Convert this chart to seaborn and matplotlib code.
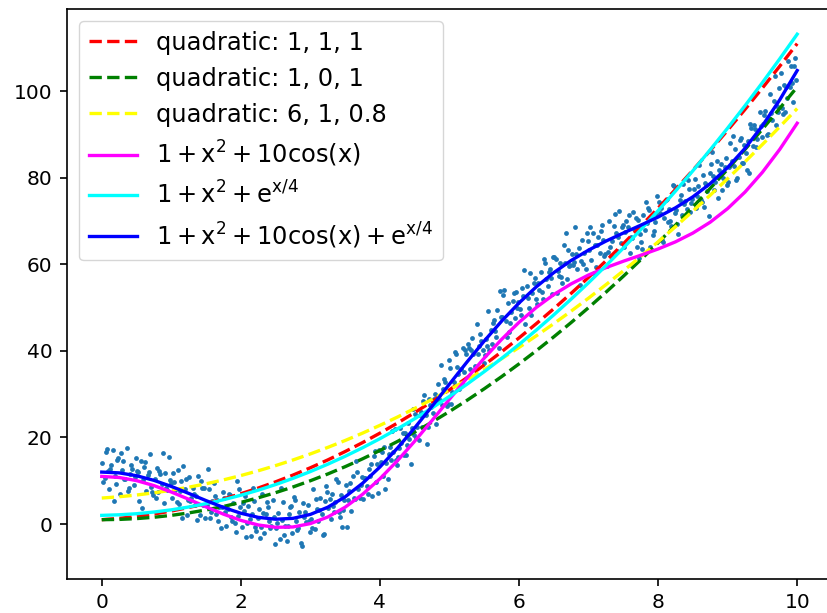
import matplotlib
matplotlib.use("Agg")
import matplotlib.pyplot as plt
import seaborn as sns

# curve samples, every 0.25 along x
x_grid = [0, 0.25, 0.5, 0.75, 1, 1.25, 1.5, 1.75, 2, 2.25, 2.5, 2.75, 3, 3.25,
          3.5, 3.75, 4, 4.25, 4.5, 4.75, 5, 5.25, 5.5, 5.75, 6, 6.25, 6.5,
          6.75, 7, 7.25, 7.5, 7.75, 8, 8.25, 8.5, 8.75, 9, 9.25, 9.5, 9.75, 10]

quad_111 = [1, 1.31, 1.75, 2.31, 3, 3.81, 4.75, 5.81, 7, 8.31, 9.75, 11.31, 13,
            14.81, 16.75, 18.81, 21, 23.31, 25.75, 28.31, 31, 33.81, 36.75,
            39.81, 43, 46.31, 49.75, 53.31, 57, 60.81, 64.75, 68.81, 73, 77.31,
            81.75, 86.31, 91, 95.81, 100.75, 105.81, 111]
quad_101 = [1, 1.06, 1.25, 1.56, 2, 2.56, 3.25, 4.06, 5, 6.06, 7.25, 8.56, 10,
            11.56, 13.25, 15.06, 17, 19.06, 21.25, 23.56, 26, 28.56, 31.25,
            34.06, 37, 40.06, 43.25, 46.56, 50, 53.56, 57.25, 61.06, 65, 69.06,
            73.25, 77.56, 82, 86.56, 91.25, 96.06, 101]
quad_6108 = [6, 6.3, 6.7, 7.2, 7.8, 8.5, 9.3, 10.2, 11.2, 12.3, 13.5, 14.8, 16.2,
             17.7, 19.3, 21, 22.8, 24.7, 26.7, 28.8, 31, 33.3, 35.7, 38.2, 40.8,
             43.5, 46.3, 49.2, 52.2, 55.3, 58.5, 61.8, 65.2, 68.7, 72.3, 76,
             79.8, 83.7, 87.7, 91.8, 96]
curve_cos = [11, 10.75, 10.03, 8.88, 7.40, 5.72, 3.96, 2.28, 0.84, -0.22, -0.76,
             -0.68, 0.10, 1.62, 3.89, 6.86, 10.46, 14.60, 19.14, 23.94, 28.84,
             33.68, 38.34, 42.67, 46.60, 50.06, 53.02, 55.49, 57.54, 59.24,
             60.72, 62.10, 63.55, 65.20, 67.23, 69.75, 72.89, 76.71, 81.28,
             86.59, 92.61]
curve_exp = [2, 2.13, 2.38, 2.77, 3.28, 3.93, 4.71, 5.61, 6.65, 7.82, 9.12,
             10.55, 12.12, 13.82, 15.65, 17.62, 19.72, 21.96, 24.33, 26.84,
             29.49, 32.28, 35.21, 38.27, 41.48, 44.83, 48.33, 51.97, 55.75,
             59.69, 63.77, 68.00, 72.39, 76.93, 81.62, 86.48, 91.49, 96.66,
             102.00, 107.51, 113.18]
curve_full = [12, 11.82, 11.16, 10.09, 8.69, 7.08, 5.41, 3.83, 2.49, 1.54, 1.11,
              1.31, 2.22, 3.88, 6.28, 9.41, 13.18, 17.50, 22.22, 27.22, 32.33,
              37.40, 42.29, 46.88, 51.08, 54.83, 58.09, 60.90, 63.29, 65.37,
              67.24, 69.04, 70.93, 73.07, 75.60, 78.67, 82.38, 86.81, 92.03,
              98.03, 104.79]

# noisy samples (estimated from the cloud of dots)
scatter_x = [
    0.01, 0.04, 0.06, 0.09, 0.11, 0.14, 0.16, 0.19, 0.21, 0.24, 0.26, 0.29, 0.31, 0.34, 0.36, 0.39, 0.41, 0.44, 0.46, 0.49,
    0.51, 0.54, 0.56, 0.59, 0.61, 0.64, 0.66, 0.69, 0.71, 0.74, 0.76, 0.79, 0.81, 0.84, 0.86, 0.89, 0.91, 0.94, 0.96, 0.99,
    1.01, 1.04, 1.06, 1.09, 1.11, 1.14, 1.16, 1.19, 1.21, 1.24, 1.26, 1.29, 1.31, 1.34, 1.36, 1.39, 1.41, 1.44, 1.46, 1.49,
    1.51, 1.54, 1.56, 1.59, 1.61, 1.64, 1.66, 1.69, 1.71, 1.74, 1.76, 1.79, 1.81, 1.84, 1.86, 1.89, 1.91, 1.94, 1.96, 1.99,
    2.01, 2.04, 2.06, 2.09, 2.11, 2.14, 2.16, 2.19, 2.21, 2.24, 2.26, 2.29, 2.31, 2.34, 2.36, 2.39, 2.41, 2.44, 2.46, 2.49,
    2.51, 2.54, 2.56, 2.59, 2.61, 2.64, 2.66, 2.69, 2.71, 2.74, 2.76, 2.79, 2.81, 2.84, 2.86, 2.89, 2.91, 2.94, 2.96, 2.99,
    3.01, 3.04, 3.06, 3.09, 3.11, 3.14, 3.16, 3.19, 3.21, 3.24, 3.26, 3.29, 3.31, 3.34, 3.36, 3.39, 3.41, 3.44, 3.46, 3.49,
    3.51, 3.54, 3.56, 3.59, 3.61, 3.64, 3.66, 3.69, 3.71, 3.74, 3.76, 3.79, 3.81, 3.84, 3.86, 3.89, 3.91, 3.94, 3.96, 3.99,
    4.01, 4.04, 4.06, 4.09, 4.11, 4.14, 4.16, 4.19, 4.21, 4.24, 4.26, 4.29, 4.31, 4.34, 4.36, 4.39, 4.41, 4.44, 4.46, 4.49,
    4.51, 4.54, 4.56, 4.59, 4.61, 4.64, 4.66, 4.69, 4.71, 4.74, 4.76, 4.79, 4.81, 4.84, 4.86, 4.89, 4.91, 4.94, 4.96, 4.99,
    5.01, 5.04, 5.06, 5.09, 5.11, 5.14, 5.16, 5.19, 5.21, 5.24, 5.26, 5.29, 5.31, 5.34, 5.36, 5.39, 5.41, 5.44, 5.46, 5.49,
    5.51, 5.54, 5.56, 5.59, 5.61, 5.64, 5.66, 5.69, 5.71, 5.74, 5.76, 5.79, 5.81, 5.84, 5.86, 5.89, 5.91, 5.94, 5.96, 5.99,
    6.01, 6.04, 6.06, 6.09, 6.11, 6.14, 6.16, 6.19, 6.21, 6.24, 6.26, 6.29, 6.31, 6.34, 6.36, 6.39, 6.41, 6.44, 6.46, 6.49,
    6.51, 6.54, 6.56, 6.59, 6.61, 6.64, 6.66, 6.69, 6.71, 6.74, 6.76, 6.79, 6.81, 6.84, 6.86, 6.89, 6.91, 6.94, 6.96, 6.99,
    7.01, 7.04, 7.06, 7.09, 7.11, 7.14, 7.16, 7.19, 7.21, 7.24, 7.26, 7.29, 7.31, 7.34, 7.36, 7.39, 7.41, 7.44, 7.46, 7.49,
    7.51, 7.54, 7.56, 7.59, 7.61, 7.64, 7.66, 7.69, 7.71, 7.74, 7.76, 7.79, 7.81, 7.84, 7.86, 7.89, 7.91, 7.94, 7.96, 7.99,
    8.01, 8.04, 8.06, 8.09, 8.11, 8.14, 8.16, 8.19, 8.21, 8.24, 8.26, 8.29, 8.31, 8.34, 8.36, 8.39, 8.41, 8.44, 8.46, 8.49,
    8.51, 8.54, 8.56, 8.59, 8.61, 8.64, 8.66, 8.69, 8.71, 8.74, 8.76, 8.79, 8.81, 8.84, 8.86, 8.89, 8.91, 8.94, 8.96, 8.99,
    9.01, 9.04, 9.06, 9.09, 9.11, 9.14, 9.16, 9.19, 9.21, 9.24, 9.26, 9.29, 9.31, 9.34, 9.36, 9.39, 9.41, 9.44, 9.46, 9.49,
    9.51, 9.54, 9.56, 9.59, 9.61, 9.64, 9.66, 9.69, 9.71, 9.74, 9.76, 9.79, 9.81, 9.84, 9.86, 9.89, 9.91, 9.94, 9.96, 9.99,
]
scatter_y = [
    14.1, 10.6, 16.6, 12.2, 8.1, 13.6, 17.1, 11.0, 9.2, 15.2, 6.9, 12.5, 14.6, 10.4, 17.6, 8.4, 11.6, 12.8, 9.1, 15.2,
    12.2, 5.4, 14.6, 10.2, 13.1, 7.7, 11.4, 16.2, 8.5, 6.6, 10.4, 13.0, 7.3, 11.5, 9.3, 4.9, 11.9, 7.9, 15.5, 9.5,
    5.9, 9.8, 7.8, 12.5, 4.7, 10.0, 1.4, 8.1, 10.3, 5.6, 10.9, 6.1, 8.3, 4.5, 6.4, 11.2, 2.1, 8.3, 4.4, 1.3,
    4.3, 8.0, 1.4, 5.4, 9.5, 2.2, 5.6, 3.9, -1.0, 7.5, 6.1, -0.4, 3.5, 6.6, 1.7, 4.9, 0.2, 9.9, 1.9, 4.0,
    -0.6, 3.0, 6.5, 0.3, 4.1, -2.7, 2.3, 5.3, -0.8, 1.5, 3.4, -0.6, 6.9, -2.0, 2.3, 3.9, 0.7, -0.5, 5.5, -4.7,
    -1.0, 2.5, -3.4, 0.9, 5.0, -0.5, -4.0, 2.2, 3.9, -2.1, 6.3, 0.7, -1.4, 2.8, -4.4, 4.9, 1.7, 0.5, 4.3, -1.8,
    1.2, 8.1, -1.1, 3.4, 0.6, 6.0, 2.4, -2.3, 5.4, 7.3, 3.6, 1.1, 6.9, 2.8, 5.2, 9.6, 2.7, 6.8, -0.7, 5.5,
    9.1, 5.5, 7.6, 3.0, 11.0, 5.8, 14.5, 8.0, 5.9, 10.9, 5.7, 10.7, 8.8, 12.7, 11.0, 6.5, 15.8, 9.7, 13.9, 17.2,
    14.4, 11.0, 17.9, 14.2, 10.3, 17.9, 14.8, 16.7, 22.0, 13.7, 15.4, 22.2, 18.7, 16.0, 21.1, 18.3, 23.4, 13.9, 22.3, 20.6,
    25.5, 22.4, 19.3, 25.9, 22.5, 29.7, 25.1, 22.5, 29.0, 27.1, 25.6, 30.1, 23.0, 32.4, 28.6, 27.4, 31.1, 32.8, 27.3, 37.9,
    36.0, 30.5, 32.7, 39.3, 36.3, 31.3, 35.9, 40.7, 35.2, 39.3, 41.6, 35.9, 40.1, 39.3, 36.5, 46.2, 39.4, 44.0, 42.4, 37.2,
    39.0, 41.2, 49.2, 44.8, 41.5, 47.2, 44.7, 49.4, 40.6, 47.8, 47.8, 54.1, 46.8, 51.1, 44.4, 49.0, 51.5, 47.6, 53.6, 51.3,
    49.7, 54.6, 52.6, 46.2, 55.0, 49.8, 57.9, 53.4, 55.6, 51.9, 50.8, 54.0, 58.2, 52.1, 61.3, 56.7, 55.0, 58.9, 56.9, 61.8,
    61.8, 53.4, 58.5, 60.3, 57.1, 64.4, 60.4, 56.6, 63.3, 59.8, 62.4, 60.5, 68.6, 58.9, 63.8, 60.7, 65.7, 62.7, 58.9, 65.5,
    63.3, 61.1, 67.3, 64.4, 59.5, 66.4, 62.7, 69.1, 65.7, 62.3, 59.7, 70.0, 64.1, 65.4, 68.8, 67.3, 63.2, 72.3, 64.9, 69.1,
    63.9, 70.1, 68.6, 62.7, 66.4, 72.0, 68.1, 64.0, 70.2, 66.9, 65.1, 71.5, 68.0, 69.5, 73.0, 64.0, 71.5, 67.6, 69.9, 75.7,
    74.5, 73.1, 65.7, 70.8, 74.8, 69.7, 72.9, 68.8, 78.4, 71.9, 72.5, 66.9, 74.8, 71.3, 78.6, 74.7, 72.8, 77.4, 72.1, 75.1,
    77.4, 73.1, 75.8, 82.9, 74.8, 80.6, 73.2, 78.4, 76.9, 81.2, 83.1, 80.5, 77.1, 83.9, 75.3, 80.6, 83.1, 79.9, 82.5, 78.3,
    79.0, 88.1, 83.8, 82.7, 86.7, 80.0, 84.8, 89.3, 83.4, 87.6, 85.7, 88.4, 81.0, 91.4, 87.4, 91.2, 87.0, 90.7, 95.3, 89.5,
    92.4, 95.4, 90.0, 93.7, 99.4, 93.3, 97.8, 92.3, 96.5, 100.7, 104.2, 94.7, 101.4, 101.0, 98.5, 100.9, 105.8, 97.6, 105.9, 102.6,
]

# second pass over the cloud, in between the first points
extra_x = [
    0.025, 0.075, 0.125, 0.175, 0.225, 0.275, 0.325, 0.375, 0.425, 0.475, 0.525, 0.575, 0.625, 0.675, 0.725, 0.775, 0.825, 0.875, 0.925, 0.975,
    1.025, 1.075, 1.125, 1.175, 1.225, 1.275, 1.325, 1.375, 1.425, 1.475, 1.525, 1.575, 1.625, 1.675, 1.725, 1.775, 1.825, 1.875, 1.925, 1.975,
    2.025, 2.075, 2.125, 2.175, 2.225, 2.275, 2.325, 2.375, 2.425, 2.475, 2.525, 2.575, 2.625, 2.675, 2.725, 2.775, 2.825, 2.875, 2.925, 2.975,
    3.025, 3.075, 3.125, 3.175, 3.225, 3.275, 3.325, 3.375, 3.425, 3.475, 3.525, 3.575, 3.625, 3.675, 3.725, 3.775, 3.825, 3.875, 3.925, 3.975,
    4.025, 4.075, 4.125, 4.175, 4.225, 4.275, 4.325, 4.375, 4.425, 4.475, 4.525, 4.575, 4.625, 4.675, 4.725, 4.775, 4.825, 4.875, 4.925, 4.975,
    5.025, 5.075, 5.125, 5.175, 5.225, 5.275, 5.325, 5.375, 5.425, 5.475, 5.525, 5.575, 5.625, 5.675, 5.725, 5.775, 5.825, 5.875, 5.925, 5.975,
    6.025, 6.075, 6.125, 6.175, 6.225, 6.275, 6.325, 6.375, 6.425, 6.475, 6.525, 6.575, 6.625, 6.675, 6.725, 6.775, 6.825, 6.875, 6.925, 6.975,
    7.025, 7.075, 7.125, 7.175, 7.225, 7.275, 7.325, 7.375, 7.425, 7.475, 7.525, 7.575, 7.625, 7.675, 7.725, 7.775, 7.825, 7.875, 7.925, 7.975,
    8.025, 8.075, 8.125, 8.175, 8.225, 8.275, 8.325, 8.375, 8.425, 8.475, 8.525, 8.575, 8.625, 8.675, 8.725, 8.775, 8.825, 8.875, 8.925, 8.975,
    9.025, 9.075, 9.125, 9.175, 9.225, 9.275, 9.325, 9.375, 9.425, 9.475, 9.525, 9.575, 9.625, 9.675, 9.725, 9.775, 9.825, 9.875, 9.925, 9.975,
]
extra_y = [
    9.6, 17.3, 12.7, 5.4, 14.9, 16.5, 10.4, 7.6, 13.6, 10.8, 12.0, 3.6, 14.4, 12.0, 7.4, 5.9, 12.3, 16.3, 8.4, 10.1,
    11.8, 5.2, 7.7, 13.5, 2.1, 5.3, 7.0, 0.9, 9.9, 8.3, 12.7, 2.7, 6.5, 0.7, 4.0, 2.8, 7.0, 0.7, -1.9, 8.2,
    4.8, -3.1, 1.2, 8.3, -1.5, -3.2, 2.6, 5.2, -1.0, 1.6, 0.2, 8.4, -2.6, -0.4, 4.1, 5.5, -1.0, -5.1, 2.7, 0.8,
    -0.9, 5.7, 3.3, -2.5, 8.8, 5.7, 4.2, 10.5, 1.6, 3.3, -0.8, 9.4, 6.0, 12.1, 9.1, 10.7, 6.9, 13.8, 16.9, 7.2,
    16.7, 8.0, 16.1, 21.5, 14.7, 17.6, 21.1, 16.0, 19.6, 26.5, 19.9, 25.3, 28.5, 18.5, 27.6, 29.0, 28.1, 36.7, 33.4, 27.7,
    27.7, 39.8, 34.7, 32.9, 40.2, 40.6, 42.9, 34.5, 41.2, 40.2, 42.8, 40.1, 46.5, 43.3, 53.8, 52.9, 43.3, 46.5, 53.4, 49.8,
    48.4, 58.7, 52.2, 48.4, 56.9, 55.6, 53.6, 60.4, 58.3, 53.1, 61.2, 57.3, 55.7, 67.3, 59.7, 59.8, 62.3, 55.2, 60.0, 67.2,
    68.6, 58.0, 64.5, 67.8, 61.9, 62.9, 61.9, 71.7, 66.3, 68.7, 67.4, 71.4, 66.2, 70.7, 61.5, 63.6, 74.4, 72.5, 66.8, 71.6,
    71.9, 65.1, 75.1, 70.0, 78.2, 69.4, 76.0, 73.9, 79.5, 74.2, 79.7, 78.1, 74.3, 78.7, 71.2, 85.9, 79.1, 81.8, 77.2, 84.6,
    82.6, 89.6, 79.5, 88.8, 83.4, 81.9, 92.4, 92.1, 88.9, 91.9, 94.5, 90.2, 95.0, 103.6, 95.2, 96.2, 95.3, 107.0, 101.9, 107.7,
]

x_ticks = [0, 2, 4, 6, 8, 10]
y_ticks = [0, 20, 40, 60, 80, 100]

curves = [
    (quad_111, "quadratic: 1, 1, 1", "red", "--"),
    (quad_101, "quadratic: 1, 0, 1", "green", "--"),
    (quad_6108, "quadratic: 6, 1, 0.8", "yellow", "--"),
    (curve_cos, r"$\mathregular{1 + x^2 + 10cos(x)}$", "magenta", "-"),
    (curve_exp, r"$\mathregular{1 + x^2 + e^{x/4}}$", "cyan", "-"),
    (curve_full, r"$\mathregular{1 + x^2 + 10cos(x) + e^{x/4}}$", "blue", "-"),
]

plt.rcParams.update({
    "font.family": ["DejaVu Sans"],
    "font.size": 14.5,
    "axes.linewidth": 1.2,
    "xtick.major.size": 5.2,
    "ytick.major.size": 5.2,
    "xtick.major.width": 1.2,
    "ytick.major.width": 1.2,
    "xtick.major.pad": 5.2,
    "ytick.major.pad": 5.2,
})

fig = plt.figure(figsize=(8.27, 6.13), dpi=100)
ax = fig.add_axes([0.081, 0.0555, 0.925, 0.9298])

sns.scatterplot(x=scatter_x + extra_x, y=scatter_y + extra_y, s=12,
                color="#1f77b4", linewidth=0, ax=ax)

for values, label, color, style in curves:
    sns.lineplot(x=x_grid, y=values, color=color, linestyle=style,
                 linewidth=2.4, label=label, ax=ax)

ax.set_xlim(-0.5, 10.5)
ax.set_ylim(-12.7, 119)
ax.set_xticks(x_ticks)
ax.set_yticks(y_ticks)
ax.legend(loc="upper left", fontsize="large")

fig.savefig("out.png", dpi=100)
